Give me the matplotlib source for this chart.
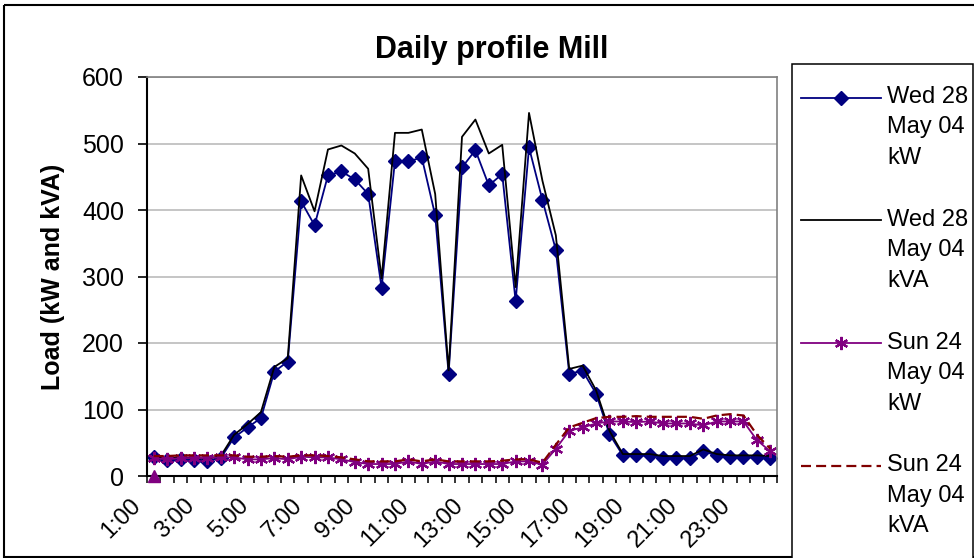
import matplotlib.pyplot as plt
import matplotlib.transforms as mtransforms
import numpy as np
from matplotlib.patches import Rectangle
from matplotlib.ticker import FixedLocator

plt.rcParams['font.family'] = ['Liberation Sans', 'DejaVu Sans']

# half-hour categories, 1:00 .. 24:00
times = [f"{h}:{m}" for h in range(1, 25) for m in ("00", "30")][:47]
time_labels = times[::4]

wed_kw = [28, 24, 26, 24, 23, 27, 58, 73, 87, 157, 172, 413, 377, 452, 458, 446,
          424, 283, 474, 473, 479, 392, 154, 464, 490, 437, 454, 263, 494, 415,
          340, 154, 158, 124, 63, 31, 31, 31, 27, 27, 27, 37, 31, 28, 28, 28, 27]
wed_kva = [30, 27, 28, 27, 26, 30, 62, 78, 96, 164, 177, 452, 398, 491, 497, 485,
           462, 297, 516, 516, 521, 424, 159, 510, 536, 485, 498, 284, 546, 444,
           362, 161, 166, 129, 68, 33, 33, 33, 30, 30, 30, 40, 33, 31, 31, 31, 30]
sun_kw = [27, 25, 27, 27, 27, 28, 28, 25, 25, 27, 25, 29, 28, 28, 25, 21,
          18, 18, 18, 22, 18, 22, 18, 18, 18, 18, 18, 22, 22, 17,
          41, 68, 73, 79, 82, 82, 81, 82, 79, 79, 79, 76, 82, 82, 82, 54, 37]
sun_kva = [30, 30, 31, 31, 31, 31, 31, 29, 29, 30, 29, 31, 31, 30, 28, 25,
           22, 22, 22, 25, 22, 25, 22, 22, 22, 22, 23, 25, 25, 20,
           47, 73, 80, 87, 89, 89, 90, 89, 89, 89, 89, 86, 91, 93, 91, 62, 41]
sun_start = [0]  # lone triangle point at 1:00

series_labels = ["Wed 28\nMay 04\nkW", "Wed 28\nMay 04\nkVA",
                 "Sun 24\nMay 04\nkW", "Sun 24\nMay 04\nkVA"]

NAVY = "#000080"
PURPLE = "#800080"
DARKRED = "#800000"
ASTERISK = (6, 2, 0)

W, H = 974, 558
fig = plt.figure(figsize=(W / 100, H / 100), dpi=100)
ax = fig.add_axes([147 / W, 1 - 476 / H, 630 / W, 399 / H])

x = np.arange(len(times))
ax.plot(x, wed_kw, color=NAVY, lw=1.3, marker="D", ms=7.5, mfc=NAVY, mec=NAVY)
ax.plot(x, wed_kva, color="black", lw=1.3)
ax.plot(x, sun_kw, color=PURPLE, lw=1.3, marker=ASTERISK, ms=9.5, mew=1.6)
ax.plot(x, sun_kva, color=DARKRED, lw=1.6, ls=(0, (4.5, 2.3)))
ax.plot(x[:len(sun_start)], sun_start, ls="none", marker="^", ms=8,
        color=PURPLE, clip_on=False, zorder=5)

ax.set_xlim(-0.5, len(times) - 0.5)
ax.set_ylim(0, 600)
ax.set_yticks(np.arange(0, 601, 100))
ax.tick_params(axis="y", labelsize=18, length=6.5, width=1.2, pad=10)
ax.yaxis.grid(True, color="#C0C0C0", lw=1.3)
ax.set_axisbelow(True)

ax.xaxis.set_major_locator(FixedLocator(x[::4]))
ax.set_xticklabels(time_labels, rotation=45, ha="right", va="center",
                   rotation_mode="anchor", fontsize=17)
ax.xaxis.set_minor_locator(FixedLocator(np.arange(-0.5, len(times), 1)))
ax.tick_params(axis="x", which="major", length=0, pad=19)
ax.tick_params(axis="x", which="minor", length=5, width=1.1)
shift = mtransforms.ScaledTranslation(-0.16, 0, fig.dpi_scale_trans)
for lbl in ax.get_xticklabels():
    lbl.set_transform(lbl.get_transform() + shift)

for side in ("left", "bottom"):
    ax.spines[side].set_color("black")
    ax.spines[side].set_linewidth(1.5)
for side in ("top", "right"):
    ax.spines[side].set_color("#808080")
    ax.spines[side].set_linewidth(1.2)

fig.text(491.5 / W, 1 - 58 / H, "Daily profile Mill", ha="center",
         va="baseline", fontsize=22, fontweight="bold")
fig.text(53 / W, 1 - 276.5 / H, "Load (kW and kVA)", ha="center", va="center",
         rotation=90, fontsize=18, fontweight="bold")

# overlay in pixel coordinates for the chart frame and the legend
ov = fig.add_axes([0, 0, 1, 1])
ov.set_xlim(0, W)
ov.set_ylim(H, 0)
ov.axis("off")
ov.patch.set_alpha(0)
ov.add_patch(Rectangle((4, 5), 1000, 551.5, fill=False, ec="black", lw=1.5))
ov.add_patch(Rectangle((791.7, 64), 181, 600, fc="white", ec="black", lw=1.1))

styles = [dict(color=NAVY, lw=1.3), dict(color="black", lw=1.3),
          dict(color=PURPLE, lw=1.3), dict(color=DARKRED, lw=1.6, ls=(0, (4.5, 2.3)))]
markers = [dict(marker="D", ms=7.5, mfc=NAVY, mec=NAVY, color=NAVY), None,
           dict(marker=ASTERISK, ms=9.5, mew=1.6, color=PURPLE), None]
for i, (lab, st, mk) in enumerate(zip(series_labels, styles, markers)):
    base = 104 + 122.8 * i
    ov.plot([801, 880.7], [base - 6.5, base - 6.5], **st)
    if mk:
        ov.plot([841], [base - 6.5], ls="none", **mk)
    # multi-line text: baseline refers to the last line
    ov.text(887.3, base + 60, lab, ha="left", va="baseline", fontsize=17,
            linespacing=1.5)

fig.savefig("out.png", dpi=100)
